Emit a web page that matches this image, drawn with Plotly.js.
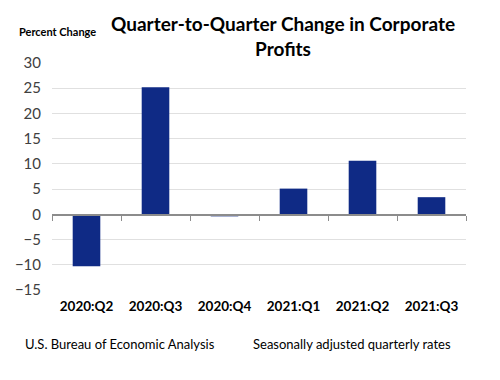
<!DOCTYPE html>
<html><head><meta charset="utf-8">
<script src="https://cdn.plot.ly/plotly-3.0.1.min.js"></script>
<style>body{margin:0;background:#fff}#c{width:500px;height:380px}</style>
</head><body><div id="c"></div>
<script>
const quarters = ["2020:Q2","2020:Q3","2020:Q4","2021:Q1","2021:Q2","2021:Q3"];
const pctChange = [-10.3, 25.2, -0.4, 5.1, 10.6, 3.4];
const yTicks = [-15,-10,-5,0,5,10,15,20,25,30];
const titleText = "Quarter-to-Quarter Change in Corporate<br>Profits";
const yLabel = "Percent Change";
const sourceNote = "U.S. Bureau of Economic Analysis";
const rateNote = "Seasonally adjusted quarterly rates";

const xs = quarters.map((q,i)=>i);
const bounds = quarters.concat([""]).map((q,i)=>i-0.5);

const font = "Lato, 'Open Sans', sans-serif";
const data = [{
  type:"bar", x:xs, y:pctChange, marker:{color:"#0f2a85"}, width:0.4, hoverinfo:"y"
},{
  type:"scatter", x:bounds, y:bounds.map(()=>0), xaxis:"x2", mode:"none", showlegend:false, hoverinfo:"skip"
}];
const layout = {
  width:500, height:380, showlegend:false,
  paper_bgcolor:"#fff", plot_bgcolor:"#fff",
  margin:{l:52, r:34, t:63, b:90},
  font:{family:font, color:"#404040"},
  xaxis:{range:[-0.5,5.5], tickmode:"array", tickvals:xs, ticktext:quarters,
    showgrid:false, zeroline:false, showline:false, ticks:"",
    tickfont:{size:13.5, color:"#000", weight:"bold"}, ticklabelstandoff:6},
  xaxis2:{overlaying:"x", anchor:"free", position:1/3, range:[-0.5,5.5],
    tickmode:"array", tickvals:bounds, ticks:"outside", ticklen:5, tickcolor:"#8c8c8c",
    showticklabels:false, showline:true, linecolor:"#8c8c8c", linewidth:1.5, showgrid:false, zeroline:false},
  yaxis:{range:[-15,30], tickmode:"array", tickvals:yTicks, gridcolor:"#e0e0e0", gridwidth:1,
    zeroline:false, showline:false, tickfont:{size:15, color:"#404040"}, ticklabelstandoff:10},
  annotations:[
    {text:titleText, xref:"paper", yref:"paper", x:0.559, y:1.235, xanchor:"center", yanchor:"top",
      showarrow:false, font:{size:19, color:"#000", weight:"bold"}},
    {text:yLabel, xref:"paper", yref:"paper", x:-0.085, y:1.137, xanchor:"left", yanchor:"middle",
      showarrow:false, font:{size:11, color:"#000", weight:"bold"}},
    {text:sourceNote, xref:"paper", yref:"paper", x:-0.07, y:-0.24, xanchor:"left", yanchor:"middle",
      showarrow:false, font:{size:13, color:"#000"}},
    {text:rateNote, xref:"paper", yref:"paper", x:0.48, y:-0.24, xanchor:"left", yanchor:"middle",
      showarrow:false, font:{size:13, color:"#000"}}
  ]
};
Plotly.newPlot("c", data, layout, {displayModeBar:false, staticPlot:true});
</script></body></html>
